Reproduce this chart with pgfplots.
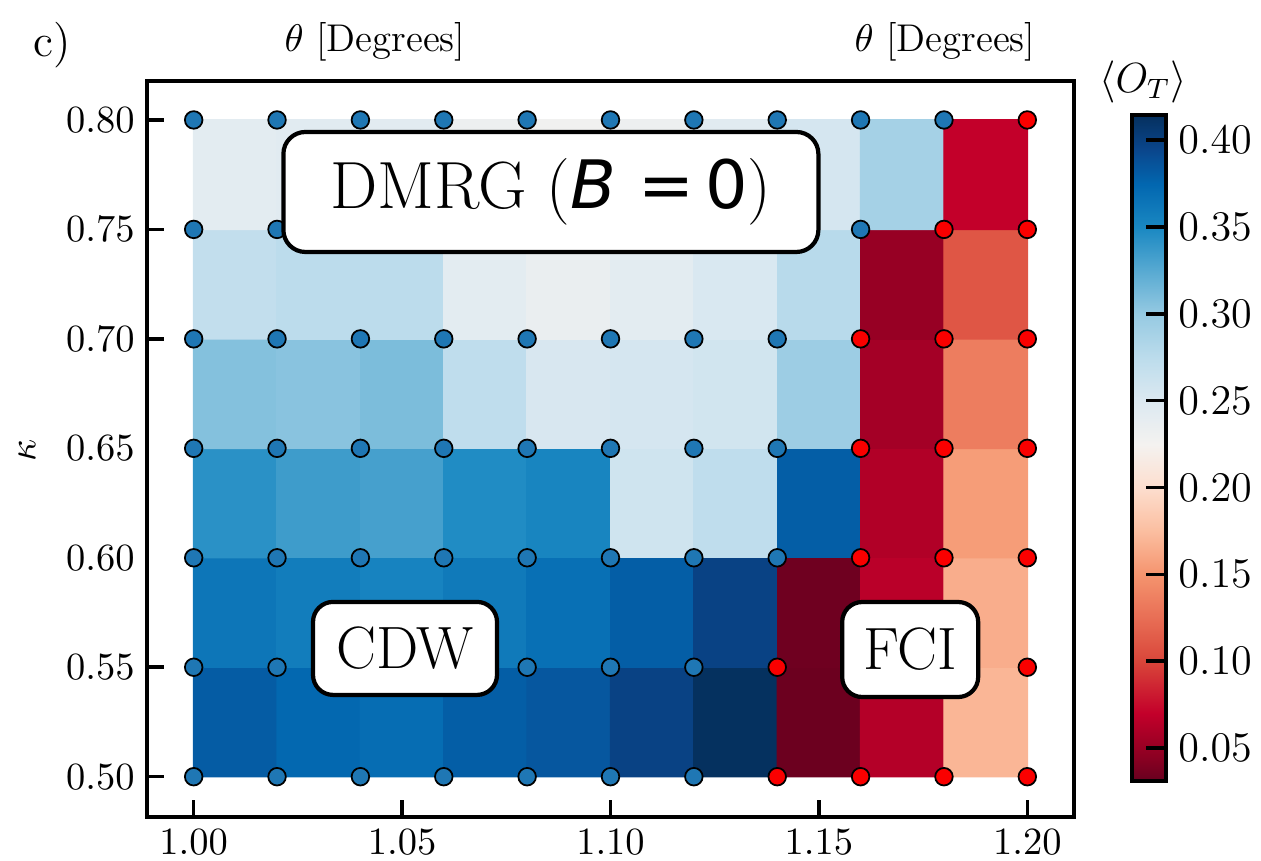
\documentclass[border=0pt]{standalone}
\usepackage{fontspec}
\newfontfamily\dejavu{DejaVu Sans}
\usepackage{pgfplots}
\pgfplotsset{compat=1.18}
\pgfplotstableread{
x y c
1.01 0.525 0.381
1.03 0.525 0.374
1.05 0.525 0.370
1.07 0.525 0.380
1.09 0.525 0.384
1.11 0.525 0.398
1.13 0.525 0.414
1.15 0.525 0.033
1.17 0.525 0.063
1.19 0.525 0.170
1.01 0.575 0.363
1.03 0.575 0.358
1.05 0.575 0.353
1.07 0.575 0.360
1.09 0.575 0.368
1.11 0.575 0.380
1.13 0.575 0.398
1.15 0.575 0.034
1.17 0.575 0.066
1.19 0.575 0.165
1.01 0.625 0.343
1.03 0.625 0.335
1.05 0.625 0.332
1.07 0.625 0.347
1.09 0.625 0.352
1.11 0.625 0.260
1.13 0.625 0.272
1.15 0.625 0.380
1.17 0.625 0.062
1.19 0.625 0.155
1.01 0.675 0.307
1.03 0.675 0.305
1.05 0.675 0.310
1.07 0.675 0.272
1.09 0.675 0.253
1.11 0.675 0.255
1.13 0.675 0.258
1.15 0.675 0.295
1.17 0.675 0.056
1.19 0.675 0.135
1.01 0.725 0.270
1.03 0.725 0.275
1.05 0.725 0.275
1.07 0.725 0.242
1.09 0.725 0.235
1.11 0.725 0.242
1.13 0.725 0.252
1.15 0.725 0.277
1.17 0.725 0.050
1.19 0.725 0.110
1.01 0.775 0.242
1.03 0.775 0.245
1.05 0.775 0.243
1.07 0.775 0.232
1.09 0.775 0.228
1.11 0.775 0.232
1.13 0.775 0.245
1.15 0.775 0.255
1.17 0.775 0.290
1.19 0.775 0.070
}\cells
\definecolor{dotblue}{RGB}{31,119,180}
\definecolor{dotred}{RGB}{250,0,0}
\begin{document}
\begin{tikzpicture}
\useasboundingbox (0,0) rectangle (12.61,8.61);
\begin{axis}[
  at={(1.47cm,0.44cm)}, anchor=south west,
  scale only axis, width=9.27cm, height=7.36cm,
  xmin=0.9888, xmax=1.2112, ymin=0.4816, ymax=0.8178,
  xtick={1.00,1.05,1.10,1.15,1.20},
  ytick={0.50,0.55,0.70,0.75,0.80},
  extra y ticks={0.60,0.65},
  extra y tick style={major tick length=0pt},
  xtick pos=bottom, ytick pos=left,
  tick align=inside, major tick length=0.17cm,
  tick style={line width=1pt, black},
  axis line style={line width=1.1pt},
  xticklabel style={/pgf/number format/.cd, fixed, fixed zerofill, precision=2},
  yticklabel style={/pgf/number format/.cd, fixed, fixed zerofill, precision=2},
  tick label style={font=\fontsize{11}{13}\selectfont},
  colormap={myrdbu}{
    rgb255(0pt)=(103,0,31);
    rgb255(14pt)=(140,0,34);
    rgb255(39pt)=(195,0,42);
    rgb255(69pt)=(217,70,58);
    rgb255(94pt)=(232,110,85);
    rgb255(119pt)=(245,148,110);
    rgb255(144pt)=(251,190,160);
    rgb255(169pt)=(253,222,206);
    rgb255(194pt)=(244,242,240);
    rgb255(219pt)=(220,233,241);
    rgb255(244pt)=(188,220,236);
    rgb255(269pt)=(150,202,226);
    rgb255(294pt)=(88,170,210);
    rgb255(319pt)=(26,136,194);
    rgb255(344pt)=(2,103,176);
    rgb255(364pt)=(10,70,140);
    rgb255(384pt)=(5,48,94)
  },
  point meta min=0.031, point meta max=0.4145,
  colorbar,
  colorbar style={
    at={(parent axis.north east)}, anchor=north west,
    xshift=0.28cm, yshift=-0.34cm,
    width=0.34cm, height=6.66cm,
    ytick={0.05,0.10,0.15,0.20,0.25,0.30,0.35,0.40},
    ytick pos=right, yticklabel pos=right,
    tick align=inside, major tick length=0.2cm,
    tick style={line width=1pt, black},
    axis line style={line width=1.1pt},
    yticklabel style={/pgf/number format/.cd, fixed, fixed zerofill, precision=2, /tikz/.cd, font=\fontsize{12}{14}\selectfont},
  },
]
\addplot[matrix plot*, mesh/cols=10, point meta=explicit] table[x=x, y=y, meta=c] {\cells};

\addplot[only marks, mark=*, mark size=2.5pt, mark options={fill=dotblue, draw=black, line width=0.5pt}] coordinates {
(1.00,0.50) (1.02,0.50) (1.04,0.50) (1.06,0.50) (1.08,0.50) (1.10,0.50) (1.12,0.50)
(1.00,0.55) (1.02,0.55) (1.04,0.55) (1.06,0.55) (1.08,0.55) (1.10,0.55) (1.12,0.55)
(1.00,0.60) (1.02,0.60) (1.04,0.60) (1.06,0.60) (1.08,0.60) (1.10,0.60) (1.12,0.60) (1.14,0.60)
(1.00,0.65) (1.02,0.65) (1.04,0.65) (1.06,0.65) (1.08,0.65) (1.10,0.65) (1.12,0.65) (1.14,0.65)
(1.00,0.70) (1.02,0.70) (1.04,0.70) (1.06,0.70) (1.08,0.70) (1.10,0.70) (1.12,0.70) (1.14,0.70)
(1.00,0.75) (1.02,0.75) (1.04,0.75) (1.06,0.75) (1.08,0.75) (1.10,0.75) (1.12,0.75) (1.14,0.75) (1.16,0.75)
(1.00,0.80) (1.02,0.80) (1.04,0.80) (1.06,0.80) (1.08,0.80) (1.10,0.80) (1.12,0.80) (1.14,0.80) (1.16,0.80) (1.18,0.80)
};
\addplot[only marks, mark=*, mark size=2.5pt, mark options={fill=dotred, draw=black, line width=0.5pt}] coordinates {
(1.14,0.50) (1.14,0.55)
(1.16,0.50) (1.16,0.55) (1.16,0.60) (1.16,0.65) (1.16,0.70)
(1.18,0.50) (1.18,0.55) (1.18,0.60) (1.18,0.65) (1.18,0.70) (1.18,0.75)
(1.20,0.50) (1.20,0.55) (1.20,0.60) (1.20,0.65) (1.20,0.70) (1.20,0.75) (1.20,0.80)
};
\coordinate (dmrg) at (axis cs:1.0857,0.7671);
\coordinate (cdw) at (axis cs:1.0507,0.5586);
\coordinate (fci) at (axis cs:1.1719,0.5581);
\end{axis}
\node[draw=black, line width=1.2pt, rounded corners=0.22cm, fill=white, inner sep=0pt,
      minimum width=5.35cm, minimum height=1.20cm, font=\fontsize{19}{23}\selectfont]
      at (dmrg) {DMRG ({\dejavu\itshape B}\,{\dejavu\,=\,0})};
\node[draw=black, line width=1.2pt, rounded corners=0.2cm, fill=white, inner sep=0pt,
      minimum width=1.84cm, minimum height=0.93cm, font=\fontsize{17}{20}\selectfont]
      at (cdw) {CDW};
\node[draw=black, line width=1.2pt, rounded corners=0.2cm, fill=white, inner sep=0pt,
      minimum width=1.36cm, minimum height=0.95cm, font=\fontsize{17}{20}\selectfont]
      at (fci) {FCI};
\node[font=\fontsize{13}{15}\selectfont] at (0.52,8.16) {c)};
\node[font=\fontsize{11}{13}\selectfont] at (3.75,8.19) {$\theta$ [Degrees]};
\node[font=\fontsize{11}{13}\selectfont] at (9.45,8.19) {$\theta$ [Degrees]};
\node[font=\fontsize{12}{14}\selectfont] at (11.43,7.79) {$\langle O_T\rangle$};
\node[rotate=90, font=\fontsize{11}{13}\selectfont] at (0.27,4.11) {$\kappa$};
\end{tikzpicture}
\end{document}
